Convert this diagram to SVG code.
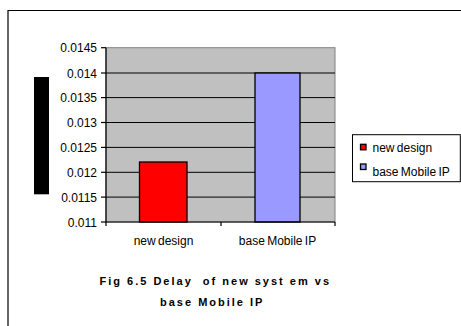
<svg xmlns="http://www.w3.org/2000/svg" width="461" height="326" viewBox="0 0 461 326">
<style>
.t{font-family:"Liberation Sans",Arial,sans-serif;font-size:12px;fill:#000}
.ya{text-anchor:end}
.xa{text-anchor:middle}
.grid{stroke:#000;stroke-width:1}
.bar{stroke:#000;stroke-width:1.3}
.title{font-family:"Liberation Sans",Arial,sans-serif;font-size:11px;font-weight:bold;letter-spacing:2px;fill:#000}
</style>
<rect width="461" height="326" fill="#fff"/>
<g id="frame" stroke="#000" stroke-width="1.2" fill="none">
<path d="M8 326V10.5H461"/>
</g>
<rect id="axis-title-block" x="34" y="77" width="15" height="117.3" fill="#000"/>
<g id="plot">
<rect x="106" y="47.7" width="229" height="174.3" fill="#c0c0c0" stroke="#808080" stroke-width="1"/>
<g class="grid">
<line x1="106" y1="73" x2="335" y2="73"/>
<line x1="106" y1="97.6" x2="335" y2="97.6"/>
<line x1="106" y1="122.5" x2="335" y2="122.5"/>
<line x1="106" y1="147.4" x2="335" y2="147.4"/>
<line x1="106" y1="172.3" x2="335" y2="172.3"/>
<line x1="106" y1="197.1" x2="335" y2="197.1"/>
</g>
<g id="bars">
<rect id="bar-new" class="bar" x="139.5" y="162" width="47.5" height="60" fill="#ff0000"/>
<rect id="bar-base" class="bar" x="255" y="73" width="45" height="149" fill="#9999ff"/>
</g>
<g id="axes" stroke="#000" stroke-width="1.2">
<line x1="106" y1="47.7" x2="106" y2="222"/>
<line x1="106" y1="222" x2="335" y2="222"/>
<line x1="101" y1="47.7" x2="106" y2="47.7"/>
<line x1="101" y1="73" x2="106" y2="73"/>
<line x1="101" y1="97.6" x2="106" y2="97.6"/>
<line x1="101" y1="122.5" x2="106" y2="122.5"/>
<line x1="101" y1="147.4" x2="106" y2="147.4"/>
<line x1="101" y1="172.3" x2="106" y2="172.3"/>
<line x1="101" y1="197.1" x2="106" y2="197.1"/>
<line x1="101" y1="222" x2="106" y2="222"/>
<line x1="106" y1="222" x2="106" y2="226"/>
<line x1="221" y1="222" x2="221" y2="226"/>
<line x1="335" y1="222" x2="335" y2="226"/>
</g>
<g id="y-labels" class="t ya">
<text x="97" y="52.3">0.0145</text>
<text x="97" y="77.6">0.014</text>
<text x="97" y="102.2">0.0135</text>
<text x="97" y="127.1">0.013</text>
<text x="97" y="152">0.0125</text>
<text x="97" y="176.9">0.012</text>
<text x="97" y="201.7">0.0115</text>
<text x="97" y="226.6">0.011</text>
</g>
<g id="x-labels" class="t xa" word-spacing="-1">
<text x="163.5" y="245">new design</text>
<text x="277.5" y="245">base Mobile IP</text>
</g>
</g>
<g id="legend">
<rect x="352.5" y="134.7" width="107.8" height="47" fill="#fff" stroke="#000" stroke-width="1"/>
<rect x="360.5" y="144.3" width="5.5" height="5.5" fill="#ff0000" stroke="#000" stroke-width="1.3"/>
<text class="t" x="372.5" y="151.7" word-spacing="-1">new design</text>
<rect x="360.5" y="164" width="5.5" height="5.5" fill="#9999ff" stroke="#000" stroke-width="1.3"/>
<text class="t" x="372.5" y="176" word-spacing="-1">base Mobile IP</text>
</g>
<g id="caption">
<text class="title" x="99.5" y="285" style="white-space:pre">Fig 6.5 Delay  of new syst em vs</text>
<text class="title" x="160" y="306">base Mobile IP</text>
</g>
</svg>
